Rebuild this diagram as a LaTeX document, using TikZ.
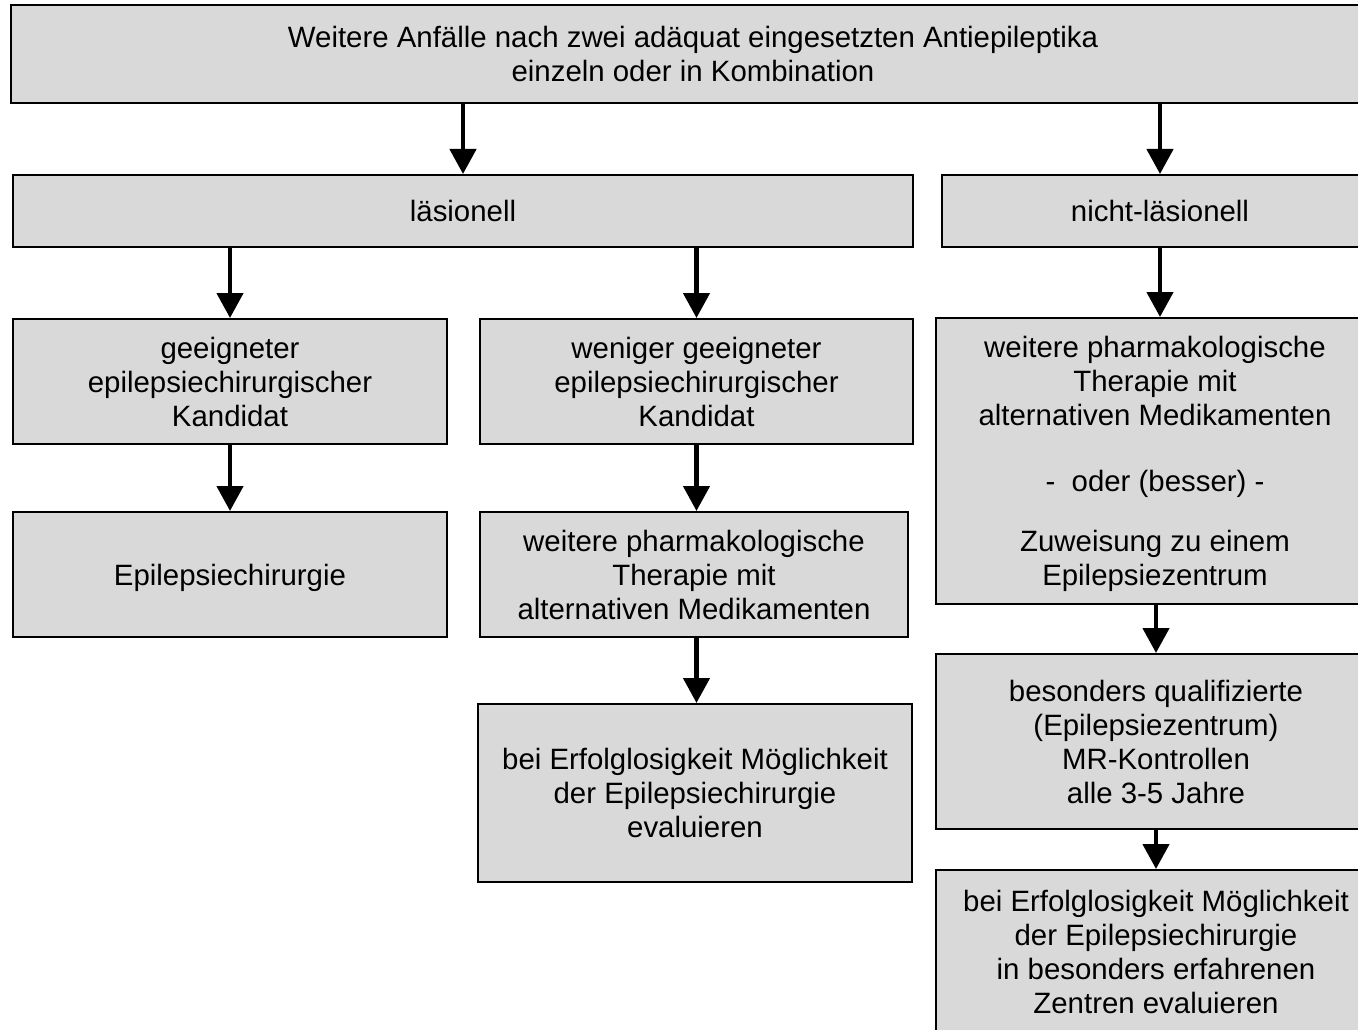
\documentclass[tikz,border=0pt]{standalone}
\usepackage{fontspec}
\setmainfont{Liberation Sans}
\usetikzlibrary{arrows.meta}
\definecolor{boxgray}{RGB}{217,217,217}
\tikzset{
  box/.style={draw=black, line width=2pt, fill=boxgray, align=center, inner sep=0pt,
    text depth=0pt, font=\fontsize{29.4}{34}\selectfont},
  arr/.style={line width=4.5pt, -{Triangle[width=26pt,length=25pt]}}
}
\begin{document}
\begin{tikzpicture}[x=1pt,y=-1pt]
\useasboundingbox (0,0) rectangle (1358,1030);
\clip (0,0) rectangle (1358,1030);
\fill[white] (0,0) rectangle (1358,1030);
\node[box, minimum width=1364pt, minimum height=98pt] (top) at (693,54)
  {Weitere Anfälle nach zwei adäquat eingesetzten Antiepileptika\\einzeln oder in Kombination};
\node[box, minimum width=900pt, minimum height=72pt] (les) at (463,211) {läsionell};
\node[box, minimum width=436pt, minimum height=72pt] (nles) at (1160,211) {nicht-läsionell};
\node[box, minimum width=434pt, minimum height=125pt] (gk) at (230,381.5)
  {geeigneter\\epilepsiechirurgischer\\Kandidat};
\node[box, minimum width=433pt, minimum height=125pt] (wgk) at (696.5,381.5)
  {weniger geeigneter\\epilepsiechirurgischer\\Kandidat};
\node[box, minimum width=438pt, minimum height=286pt] (wpr) at (1155,461)
  {weitere pharmakologische\\Therapie mit\\alternativen Medikamenten\\[32pt]-\ \ oder (besser) -\\[26pt]Zuweisung zu einem\\Epilepsiezentrum};
\node[box, minimum width=434pt, minimum height=125pt] (ec) at (230,574.5) {Epilepsiechirurgie};
\node[box, minimum width=428pt, minimum height=125pt] (wpm) at (694,574.5)
  {weitere pharmakologische\\Therapie mit\\alternativen Medikamenten};
\node[box, minimum width=434pt, minimum height=178pt] (bef1) at (695,793)
  {bei Erfolglosigkeit Möglichkeit\\der Epilepsiechirurgie\\evaluieren};
\node[box, minimum width=440pt, minimum height=175pt] (bq) at (1156,741.5)
  {besonders qualifizierte\\(Epilepsiezentrum)\\MR-Kontrollen\\alle 3-5 Jahre};
\node[box, minimum width=440pt, minimum height=164pt] (bef2) at (1156,952)
  {bei Erfolglosigkeit Möglichkeit\\der Epilepsiechirurgie\\in besonders erfahrenen\\Zentren evaluieren};
\draw[arr] (les |- top.south) -- (les.north);
\draw[arr] (nles |- top.south) -- (nles.north);
\draw[arr] (gk |- les.south) -- (gk.north);
\draw[arr] (wgk |- les.south) -- (wgk.north);
\draw[arr] (nles.south) -- (nles.south |- wpr.north);
\draw[arr] (gk.south) -- (ec.north);
\draw[arr] (wgk.south) -- (wgk.south |- wpm.north);
\draw[arr] (wgk.south |- wpm.south) -- (wgk.south |- bef1.north);
\draw[arr] (bq |- wpr.south) -- (bq.north);
\draw[arr] (bq.south) -- (bef2.north);
\end{tikzpicture}
\end{document}
